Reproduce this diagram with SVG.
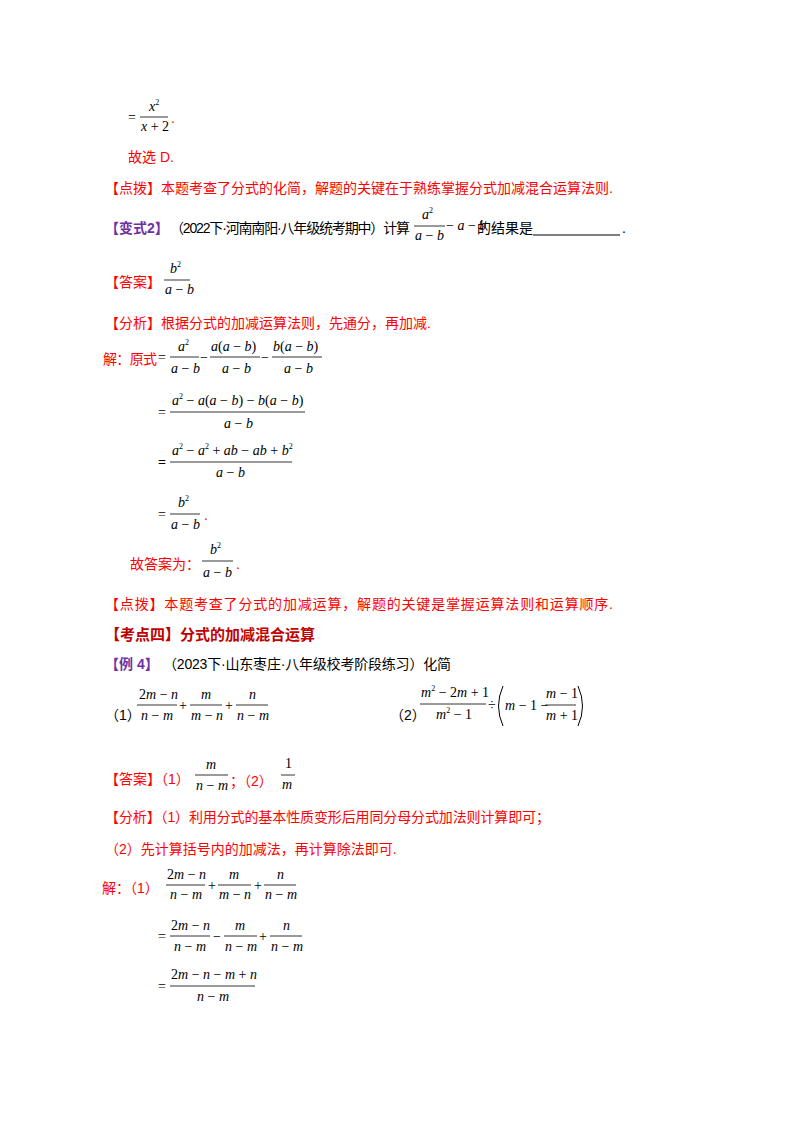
<svg xmlns="http://www.w3.org/2000/svg" width="800" height="1132" viewBox="0 0 800 1132">
<style>
.m{font-family:"Liberation Serif","Times New Roman",serif;font-style:italic;font-size:14px;fill:#000}
.u{font-family:"Liberation Serif","Times New Roman",serif;font-size:14px;fill:#000}
.s{font-size:8px}
.n{font-style:normal}
.c{font-family:"Liberation Sans","Noto Sans CJK SC",sans-serif;font-size:14px}
.r{fill:#ff0000}
.p{fill:#7030a0}
.k{fill:#000}
.h{font-family:"Liberation Sans","Noto Sans CJK SC",sans-serif;font-size:15px;font-weight:bold;fill:#c00000}
line{stroke:#000;stroke-width:0.8}
.par{fill:none;stroke:#000;stroke-width:1}
</style>
<rect width="800" height="1132" fill="#fff"/>
<text class="u" x="128" y="122">=</text>
<line x1="140" y1="117" x2="168" y2="117"/>
<text class="m" x="149" y="111">x<tspan class="s n" dy="-6">2</tspan></text>
<text class="m" x="141" y="131">x<tspan class="n"> + 2</tspan></text>
<text class="c r" x="171" y="123">.</text>
<text class="c r" x="128" y="162">故选 D.</text>
<text class="c r" x="105" y="193" textLength="508">【点拨】本题考查了分式的化简，解题的关键在于熟练掌握分式加减混合运算法则.</text>
<text class="c p" x="105" y="233" font-weight="bold">【变式2】</text>
<text class="c k" x="170" y="233" textLength="240">（2022下·河南南阳·八年级统考期中）计算</text>
<line x1="414" y1="226" x2="445" y2="226"/>
<text class="m" x="422" y="219">a<tspan class="s n" dy="-6">2</tspan></text>
<text class="m" x="415" y="240">a<tspan class="n"> − </tspan>b</text>
<text class="m" x="446" y="230" font-size="12"><tspan class="n">− </tspan>a<tspan class="n"> − </tspan>b</text>
<text class="c k" x="477" y="233">的结果是</text>
<line x1="533" y1="235" x2="620" y2="235" style="stroke-width:1.2"/>
<text class="c k" x="622" y="233">.</text>
<text class="c r" x="105" y="287">【答案】</text>
<line x1="164" y1="280" x2="190" y2="280"/>
<text class="m" x="170" y="273">b<tspan class="s n" dy="-6">2</tspan></text>
<text class="m" x="165" y="294">a<tspan class="n"> − </tspan>b</text>
<text class="c r" x="105" y="328">【分析】根据分式的加减运算法则，先通分，再加减.</text>
<text class="c r" x="103" y="364" textLength="54">解：原式</text>
<text class="u" x="158" y="362">=</text>
<line x1="170" y1="357" x2="199" y2="357"/>
<text class="m" x="178" y="351">a<tspan class="s n" dy="-6">2</tspan></text>
<text class="m" x="171" y="373">a<tspan class="n"> − </tspan>b</text>
<text class="u" x="200" y="362">−</text>
<line x1="210" y1="357" x2="260" y2="357"/>
<text class="m" x="211" y="351">a<tspan class="n">(</tspan>a<tspan class="n"> − </tspan>b<tspan class="n">)</tspan></text>
<text class="m" x="222" y="373">a<tspan class="n"> − </tspan>b</text>
<text class="u" x="261" y="362">−</text>
<line x1="272" y1="357" x2="322" y2="357"/>
<text class="m" x="273" y="351">b<tspan class="n">(</tspan>a<tspan class="n"> − </tspan>b<tspan class="n">)</tspan></text>
<text class="m" x="284" y="373">a<tspan class="n"> − </tspan>b</text>
<text class="u" x="158" y="417">=</text>
<line x1="170" y1="412" x2="305" y2="412"/>
<text class="m" x="172" y="405">a<tspan class="s n" dy="-6">2</tspan><tspan class="n" dy="6"> − </tspan>a<tspan class="n">(</tspan>a<tspan class="n"> − </tspan>b<tspan class="n">) − </tspan>b<tspan class="n">(</tspan>a<tspan class="n"> − </tspan>b<tspan class="n">)</tspan></text>
<text class="m" x="224" y="428">a<tspan class="n"> − </tspan>b</text>
<text class="u" x="158" y="467" font-weight="bold">=</text>
<line x1="170" y1="462" x2="292" y2="462"/>
<text class="m" x="172" y="455">a<tspan class="s n" dy="-6">2</tspan><tspan class="n" dy="6"> − </tspan>a<tspan class="s n" dy="-6">2</tspan><tspan class="n" dy="6"> + </tspan>ab<tspan class="n"> − </tspan>ab<tspan class="n"> + </tspan>b<tspan class="s n" dy="-6">2</tspan></text>
<text class="m" x="216" y="477">a<tspan class="n"> − </tspan>b</text>
<text class="u" x="158" y="519">=</text>
<line x1="170" y1="514" x2="200" y2="514"/>
<text class="m" x="178" y="507">b<tspan class="s n" dy="-6">2</tspan></text>
<text class="m" x="171" y="529">a<tspan class="n"> − </tspan>b</text>
<text class="c r" x="204" y="520">.</text>
<text class="c r" x="130" y="569">故答案为：</text>
<line x1="202" y1="561" x2="233" y2="561"/>
<text class="m" x="210" y="554">b<tspan class="s n" dy="-6">2</tspan></text>
<text class="m" x="203" y="577">a<tspan class="n"> − </tspan>b</text>
<text class="c r" x="236" y="569">.</text>
<text class="c r" x="105" y="609" textLength="508">【点拨】本题考查了分式的加减运算，解题的关键是掌握运算法则和运算顺序.</text>
<text class="h" x="105" y="640">【考点四】分式的加减混合运算</text>
<text class="c p" x="105" y="669" font-weight="bold">【例 4】</text>
<text class="c k" x="163" y="669" textLength="288">（2023下·山东枣庄·八年级校考阶段练习）化简</text>
<text class="c k" x="105" y="720">（1）</text>
<line x1="137" y1="705" x2="177" y2="705"/>
<text class="m" x="139" y="699"><tspan class="n">2</tspan>m<tspan class="n"> − </tspan>n</text>
<text class="m" x="141" y="720">n<tspan class="n"> − </tspan>m</text>
<text class="u" x="179" y="710">+</text>
<line x1="190" y1="705" x2="222" y2="705"/>
<text class="m" x="201" y="699">m</text>
<text class="m" x="191" y="720">m<tspan class="n"> − </tspan>n</text>
<text class="u" x="225" y="710">+</text>
<line x1="236" y1="705" x2="268" y2="705"/>
<text class="m" x="249" y="699">n</text>
<text class="m" x="237" y="720">n<tspan class="n"> − </tspan>m</text>
<text class="c k" x="390" y="720">（2）</text>
<line x1="420" y1="704" x2="486" y2="704"/>
<text class="m" x="421" y="697">m<tspan class="s n" dy="-6">2</tspan><tspan class="n" dy="6"> − 2</tspan>m<tspan class="n"> + 1</tspan></text>
<text class="m" x="436" y="719">m<tspan class="s n" dy="-6">2</tspan><tspan class="n" dy="6"> − 1</tspan></text>
<text class="u" x="488" y="710">÷</text>
<path class="par" d="M503 686 Q494 706 503 726"/>
<text class="m" x="505" y="710">m<tspan class="n"> − 1 −</tspan></text>
<line x1="545" y1="705" x2="576" y2="705"/>
<text class="m" x="546" y="698">m<tspan class="n"> − 1</tspan></text>
<text class="m" x="546" y="720">m<tspan class="n"> + 1</tspan></text>
<path class="par" d="M578 686 Q587 706 578 726"/>
<text class="c r" x="105" y="784">【答案】（1）</text>
<line x1="195" y1="775" x2="228" y2="775"/>
<text class="m" x="206" y="769">m</text>
<text class="m" x="196" y="790">n<tspan class="n"> − </tspan>m</text>
<text class="c r" x="230" y="786">；（2）</text>
<line x1="281" y1="775" x2="295" y2="775"/>
<text class="u" x="285" y="768">1</text>
<text class="m" x="282" y="789">m</text>
<text class="c r" x="105" y="822" textLength="445">【分析】（1）利用分式的基本性质变形后用同分母分式加法则计算即可；</text>
<text class="c r" x="105" y="854">（2）先计算括号内的加减法，再计算除法即可.</text>
<text class="c r" x="102" y="893">解：（1）</text>
<line x1="166" y1="885" x2="205" y2="885"/>
<text class="m" x="167" y="879"><tspan class="n">2</tspan>m<tspan class="n"> − </tspan>n</text>
<text class="m" x="170" y="899">n<tspan class="n"> − </tspan>m</text>
<text class="u" x="208" y="890">+</text>
<line x1="218" y1="885" x2="251" y2="885"/>
<text class="m" x="229" y="879">m</text>
<text class="m" x="219" y="899">m<tspan class="n"> − </tspan>n</text>
<text class="u" x="254" y="890">+</text>
<line x1="264" y1="885" x2="296" y2="885"/>
<text class="m" x="277" y="879">n</text>
<text class="m" x="265" y="899">n<tspan class="n"> − </tspan>m</text>
<text class="u" x="158" y="941">=</text>
<line x1="170" y1="936" x2="210" y2="936"/>
<text class="m" x="171" y="930"><tspan class="n">2</tspan>m<tspan class="n"> − </tspan>n</text>
<text class="m" x="174" y="951">n<tspan class="n"> − </tspan>m</text>
<text class="u" x="213" y="941">−</text>
<line x1="224" y1="936" x2="257" y2="936"/>
<text class="m" x="235" y="930">m</text>
<text class="m" x="225" y="951">n<tspan class="n"> − </tspan>m</text>
<text class="u" x="259" y="941">+</text>
<line x1="270" y1="936" x2="302" y2="936"/>
<text class="m" x="283" y="930">n</text>
<text class="m" x="271" y="951">n<tspan class="n"> − </tspan>m</text>
<text class="u" x="158" y="991">=</text>
<line x1="170" y1="986" x2="255" y2="986"/>
<text class="m" x="171" y="979"><tspan class="n">2</tspan>m<tspan class="n"> − </tspan>n<tspan class="n"> − </tspan>m<tspan class="n"> + </tspan>n</text>
<text class="m" x="197" y="1001">n<tspan class="n"> − </tspan>m</text>
</svg>
